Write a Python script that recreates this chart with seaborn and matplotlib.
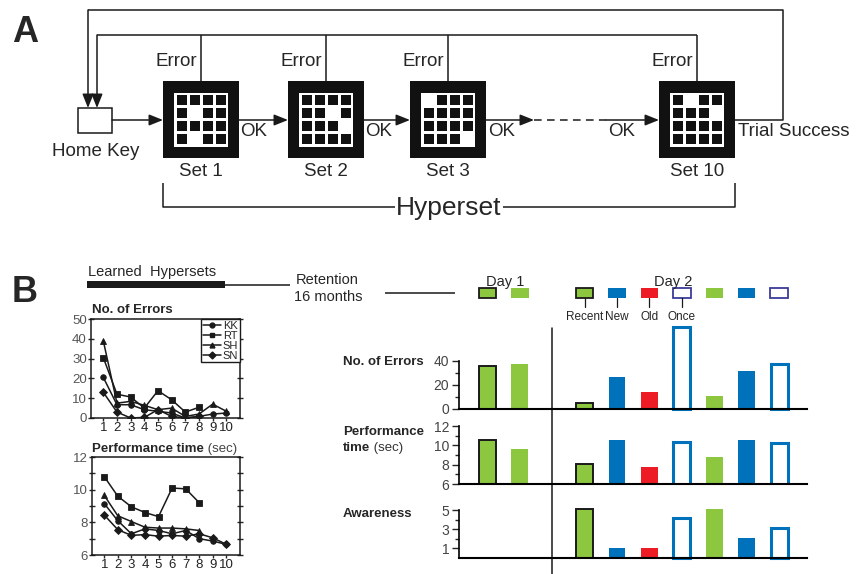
import numpy as np
import pandas as pd
import matplotlib
matplotlib.use("Agg")
import matplotlib.pyplot as plt
import matplotlib.transforms as mtrans
from matplotlib.patches import Rectangle
from matplotlib.lines import Line2D
import seaborn as sns

# ---------------- data ----------------
subjects = ["KK", "RT", "SH", "SN"]
markers = {"KK": "o", "RT": "s", "SH": "^", "SN": "D"}

err_KK = [20.5, 6.7, 6.7, 4.2, 3.4, 2.5, 0.0, 0.8, 2.0, 2.5]
err_RT = [30.5, 12.0, 10.6, 5.0, 13.8, 9.2, 3.0, 5.4]
err_SH = [39.0, 7.5, 8.4, 6.4, 4.2, 5.0, 0.8, 2.0, 7.0, 3.4]
err_SN = [13.0, 3.0, 0.0, 0.3, 4.2, 0.8, 0.0, 0.8]

perf_KK = [9.15, 8.1, 7.3, 7.6, 7.5, 7.3, 7.5, 7.0, 6.85, 6.65]
perf_RT = [10.8, 9.6, 8.95, 8.6, 8.35, 10.1, 10.05, 9.2]
perf_SH = [9.65, 8.4, 8.05, 7.7, 7.65, 7.65, 7.6, 7.5]
perf_SN = [8.45, 7.55, 7.2, 7.25, 7.15, 7.2, 7.15, 7.3, 7.05, 6.65]

trial_ticks = list(range(1, 11))

bar_slots = [0, 1, 3, 4, 5, 6, 7, 8, 9]
bar_kinds = ["recent", "green", "recent", "new", "old", "once", "green", "new", "once"]
bar_errors = [35.6, 37.8, 5.4, 26.3, 14.5, 68.0, 11.2, 32.0, 37.8]
bar_perf = [10.6, 9.6, 8.1, 10.6, 7.8, 10.3, 8.8, 10.6, 10.2]
aware_slots = [3, 4, 5, 6, 7, 8, 9]
aware_kinds = ["recent", "new", "old", "once", "green", "new", "once"]
bar_aware = [5.07, 1.07, 1.07, 4.2, 5.15, 2.05, 3.1]

legend_labels = ["Recent", "New", "Old", "Once"]

set_names = ["Set 1", "Set 2", "Set 3", "Set 10"]
set_patterns = [
    [[1, 1, 1, 1], [1, 0, 1, 1], [1, 1, 1, 1], [1, 0, 1, 1]],
    [[1, 1, 1, 1], [1, 1, 0, 1], [1, 1, 1, 0], [1, 1, 1, 1]],
    [[0, 1, 1, 1], [1, 1, 1, 1], [1, 1, 1, 1], [1, 1, 1, 0]],
    [[1, 0, 1, 1], [1, 1, 1, 0], [1, 1, 1, 1], [1, 1, 1, 1]],
]

GREEN = "#8dc63f"
BLUE = "#0072bc"
RED = "#ed1c24"
PURPLE = "#3c3c9c"
STYLE = {
    "recent": dict(fc=GREEN, ec="#1a1a1a", lw=1.4),
    "green": dict(fc=GREEN, ec=GREEN, lw=0.0),
    "new": dict(fc=BLUE, ec=BLUE, lw=0.0),
    "old": dict(fc=RED, ec=RED, lw=0.0),
    "once": dict(fc="white", ec=BLUE, lw=2.2),
}

# ---------------- style ----------------
sns.set_theme(style="white")
plt.rcParams["font.family"] = ["Liberation Sans", "DejaVu Sans"]
plt.rcParams["axes.edgecolor"] = "black"

W, H = 862, 574
fig = plt.figure(figsize=(W / 100, H / 100), dpi=100)
fig.patch.set_facecolor("white")


def px_axes(x0, y0, x1, y1):
    return fig.add_axes([x0 / W, 1 - y1 / H, (x1 - x0) / W, (y1 - y0) / H])


ov = fig.add_axes([0, 0, 1, 1])
ov.set_xlim(0, W)
ov.set_ylim(H, 0)
ov.axis("off")

LW = 1.1
FS_A = 13.5


def line(xs, ys, **kw):
    d = dict(color="k", lw=LW, solid_capstyle="butt")
    d.update(kw)
    ov.plot(xs, ys, **d)


def arrow(x0, y0, x1, y1):
    ov.annotate("", xy=(x1, y1), xytext=(x0, y0),
                arrowprops=dict(arrowstyle="-|>,head_length=0.7,head_width=0.28",
                                color="k", lw=LW, shrinkA=0, shrinkB=0))


# ---------------- panel A ----------------
ov.text(12, 33, "A", fontsize=26, fontweight="bold", va="center", ha="left")
centers = [201, 326, 448, 697]
box_top, box_bot = 81, 158
yflow = 120

for cx, pat, name in zip(centers, set_patterns, set_names):
    ov.add_patch(Rectangle((cx - 38, box_top), 76, box_bot - box_top, fc="#111", ec="none"))
    ix, iy = cx - 27, 92.5
    ov.add_patch(Rectangle((ix, iy), 54, 54, fc="white", ec="none"))
    c, g = 10.2, 2.75
    for r in range(4):
        for col in range(4):
            if pat[r][col]:
                ov.add_patch(Rectangle((ix + g + col * (c + g), iy + g + r * (c + g)), c, c,
                                       fc="#111", ec="none"))
    ov.text(cx, 172, name, fontsize=FS_A, ha="center", va="center")
    line([cx, cx], [35, box_top])
    ov.text(cx - 4, 62, "Error", fontsize=FS_A, ha="right", va="center")

# loops
line([97, 697], [35, 35])
arrow(97, 35, 97, 108)
line([735, 783, 783, 88], [yflow, yflow, 10, 10])
arrow(88, 10, 88, 108)

# home key
ov.add_patch(Rectangle((78, 108), 34, 25, fc="white", ec="k", lw=LW))
ov.text(96, 152, "Home Key", fontsize=FS_A, ha="center", va="center")
arrow(112, yflow, 163, yflow)
arrow(239, yflow, 288, yflow)
arrow(364, yflow, 410, yflow)
arrow(486, yflow, 534, yflow)
line([534, 606], [yflow, yflow], linestyle=(0, (5, 3.5)))
arrow(606, yflow, 659, yflow)
for x in [240, 365, 488]:
    ov.text(x, 132, "OK", fontsize=FS_A, ha="left", va="center")
ov.text(622, 132, "OK", fontsize=FS_A, ha="center", va="center")
ov.text(738, 132, "Trial Success", fontsize=FS_A, ha="left", va="center")

# hyperset bracket
line([163, 163, 735, 735], [183, 207, 207, 183])
ov.text(449, 208, "Hyperset", fontsize=19, ha="center", va="center",
        bbox=dict(fc="white", ec="none", pad=1))

# ---------------- panel B header ----------------
ov.text(12, 292, "B", fontsize=26, fontweight="bold", va="center", ha="left")
ov.text(88, 272, "Learned  Hypersets", fontsize=10.5, ha="left", va="center")
ov.add_patch(Rectangle((87, 281), 138, 7, fc="k", ec="none"))
line([225, 290], [284.5, 284.5])
ov.text(296, 280, "Retention", fontsize=10.5, ha="left", va="center")
ov.text(294, 297, "16 months", fontsize=10.5, ha="left", va="center")
line([385, 455], [293, 293])
ov.text(505, 282, "Day 1", fontsize=10.5, ha="center", va="center")
ov.text(673, 282, "Day 2", fontsize=10.5, ha="center", va="center")

# ---------------- line charts ----------------
err_series = {"KK": err_KK, "RT": err_RT, "SH": err_SH, "SN": err_SN}
perf_series = {"KK": perf_KK, "RT": perf_RT, "SH": perf_SH, "SN": perf_SN}


def long_df(series):
    rows = []
    for s in subjects:
        for i, v in enumerate(series[s]):
            rows.append((s, i + 1, v))
    return pd.DataFrame(rows, columns=["subject", "trial", "value"])


def line_panel(ax, series, ylim, yticks, yminor):
    sns.lineplot(data=long_df(series), x="trial", y="value", hue="subject", style="subject",
                 markers=markers, dashes=False, palette={s: "k" for s in subjects},
                 ax=ax, legend=False, linewidth=1.1, markersize=4,
                 markeredgecolor="k", markeredgewidth=0.6)
    ax.set_xlim(0.1, 11)
    ax.set_ylim(*ylim)
    ax.set_xticks(trial_ticks)
    ax.set_yticks(yticks)
    ax.set_yticks(yminor, minor=True)
    ax.set_xlabel("")
    ax.set_ylabel("")
    for sp in ax.spines.values():
        sp.set_visible(True)
        sp.set_color("k")
        sp.set_linewidth(1.1)
    ax.tick_params(axis="x", which="major", bottom=True, direction="out", length=2.5,
                   width=1, labelsize=9.5, pad=0.5, labelcolor="#222")
    ax.tick_params(axis="y", which="both", left=True, right=True, direction="inout",
                   length=4, width=1, labelsize=9.5, pad=1, labelcolor="#555")
    ax.set_facecolor("white")


ax_le = px_axes(91, 319, 240, 418)
line_panel(ax_le, err_series, (0, 50), [0, 10, 20, 30, 40, 50], [])
handles = [Line2D([0], [0], color="k", lw=1.1, marker=markers[s], ms=3.5) for s in subjects]
leg = ax_le.legend(handles, subjects, loc="upper right", bbox_to_anchor=(1, 1),
                   frameon=True, fancybox=False, edgecolor="k", fontsize=8,
                   handlelength=1.6, borderpad=0.15, labelspacing=0.0, handletextpad=0.2,
                   borderaxespad=0, framealpha=1)
leg.get_frame().set_linewidth(1.0)

ax_lp = px_axes(92, 457, 240, 555)
line_panel(ax_lp, perf_series, (6, 12), [6, 8, 10, 12], [7, 9, 11])

ov.text(92, 310, "No. of Errors", fontsize=9.5, fontweight="bold", ha="left", va="center")
t1 = ov.text(92, 449, "Performance time", fontsize=9.5, fontweight="bold", ha="left", va="center")
ov.annotate(" (sec)", xy=(1, 0), xycoords=t1, fontsize=9.5, ha="left", va="bottom", color="#444")

# ---------------- bar charts ----------------
XL = (-0.875, 9.86)


def bar_panel(ax, slots, vals, kinds, ylim, yticks, yminor, clip):
    df = pd.DataFrame({"slot": slots, "val": vals})
    sns.barplot(data=df, x="slot", y="val", native_scale=True, width=0.52, color=GREEN,
                errorbar=None, saturation=1, ax=ax)
    patches = sorted(ax.patches, key=lambda p: p.get_x())
    for p, k in zip(patches, kinds):
        st = STYLE[k]
        p.set_facecolor(st["fc"])
        p.set_edgecolor(st["ec"])
        p.set_linewidth(st["lw"])
        p.set_clip_on(clip)
        p.set_zorder(1)
    ax.set_xlim(*XL)
    ax.set_ylim(*ylim)
    ax.set_xticks([])
    ax.set_yticks(yticks)
    ax.set_yticks(yminor, minor=True)
    ax.set_xlabel("")
    ax.set_ylabel("")
    sns.despine(ax=ax)
    ax.spines["left"].set_linewidth(1.2)
    ax.spines["bottom"].set_linewidth(1.5)
    ax.spines["left"].set_zorder(3)
    ax.spines["bottom"].set_zorder(3)
    ax.tick_params(axis="y", which="major", left=True, direction="out", length=5, width=1,
                   labelsize=10, pad=2, labelcolor="#444")
    ax.tick_params(axis="y", which="minor", left=True, direction="out", length=3, width=1)
    ax.patch.set_alpha(0)


ax_be = px_axes(459, 361, 807, 409)
bar_panel(ax_be, bar_slots, bar_errors, bar_kinds, (0, 40), [0, 20, 40], [10, 30], False)
ax_bp = px_axes(459, 426, 807, 484)
bar_panel(ax_bp, bar_slots, bar_perf, bar_kinds, (6, 12), [6, 8, 10, 12], [7, 9, 11], True)
ax_ba = px_axes(459, 510, 807, 558)
bar_panel(ax_ba, aware_slots, bar_aware, aware_kinds, (0, 5), [1, 3, 5], [2, 4], False)

FS_L = 9.5
ov.text(343, 362, "No. of Errors", fontsize=FS_L, fontweight="bold", ha="left", va="center")
ov.text(343, 432, "Performance", fontsize=FS_L, fontweight="bold", ha="left", va="center")
t2 = ov.text(343, 448, "time", fontsize=FS_L, fontweight="bold", ha="left", va="center")
ov.annotate(" (sec)", xy=(1, 0), xycoords=t2, fontsize=FS_L, ha="left", va="bottom", color="#333")
ov.text(343, 514, "Awareness", fontsize=FS_L, fontweight="bold", ha="left", va="center")

# divider between Day 1 and Day 2, and header legend squares tied to bar x-scale
btr = mtrans.blended_transform_factory(ax_be.transData, ov.transData)
ov.plot([2, 2], [328, 574], color="k", lw=1.1, transform=btr, clip_on=False)
for s, k in zip(bar_slots, bar_kinds):
    st = dict(STYLE[k])
    lw = 1.3 if k in ("recent", "once") else 0
    ec = PURPLE if k == "once" else st["ec"]
    ov.add_patch(Rectangle((s - 0.27, 288), 0.54, 10, transform=btr, fc=st["fc"],
                           ec=ec, lw=lw, clip_on=False))
for s, lab in zip(bar_slots[2:6], legend_labels):
    ov.plot([s, s], [298, 307], color="k", lw=0.9, transform=btr, clip_on=False)
    ov.text(s, 317, lab, fontsize=8.5, ha="center", va="center", transform=btr)

fig.savefig("out.png", dpi=100, facecolor="white")
